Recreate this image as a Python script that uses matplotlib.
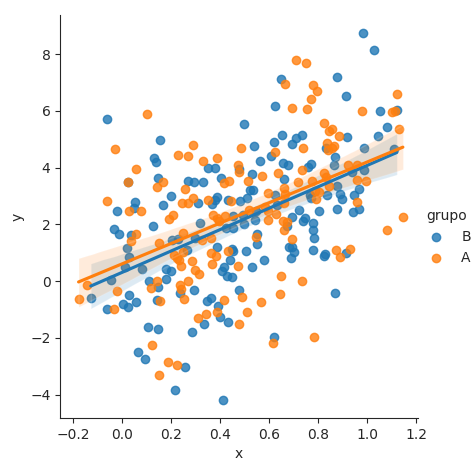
import numpy as np
import pandas as pd
import matplotlib
matplotlib.use('Agg')
import matplotlib.pyplot as plt
import seaborn as sns

# grupo B (blue)
b_x = [-0.062, 0.155, 0.128, 0.139, 0.023, 0.146, 0.267, 0.199, 0.054, 0.050,
       -0.022, 0.166, -0.035, 0.124, -0.014, 0.037, 0.020, 0.029, 0.203, 0.227,
       0.264, 0.010, 0.082, 0.177, 0.201, -0.045, -0.128, 0.109, 0.177, 0.146,
       0.237, 0.027, 0.004, 0.023, 0.057, -0.063, 0.144, 0.107, 0.148, 0.063,
       0.094, 0.257, 0.216,
       0.622, 0.499, 0.652, 0.710, 0.733, 0.694, 0.619, 0.539, 0.561, 0.608,
       0.658, 0.675, 0.350, 0.381, 0.475, 0.528, 0.660, 0.294, 0.328, 0.404,
       0.522, 0.533, 0.309, 0.389, 0.377, 0.366, 0.431, 0.479, 0.509, 0.622,
       0.631, 0.720, 0.547, 0.452, 0.494, 0.542, 0.317, 0.499, 0.695, 0.672,
       0.552, 0.552, 0.680, 0.693, 0.703, 0.690, 0.620, 0.298, 0.386, 0.448,
       0.454, 0.506, 0.580, 0.442, 0.414, 0.407, 0.528, 0.427, 0.449, 0.295,
       0.475, 0.346, 0.363, 0.393, 0.400, 0.434, 0.336, 0.284, 0.411, 0.423,
       0.452,
       0.982, 1.027, 0.876, 0.912, 1.052, 1.121, 0.917, 1.080, 1.044,
       0.833, 0.989, 1.108, 0.869, 0.772, 0.758, 0.866, 0.940, 0.988, 0.876,
       0.965, 0.765, 0.770, 0.835, 0.890, 0.898, 0.948, 0.802, 0.876, 0.944,
       0.965, 0.747, 0.738, 0.781, 0.778, 0.784, 0.778, 0.914, 0.829,
       0.826, 0.869, 0.649]
b_y = [5.73, 4.97, 4.34, 4.21, 3.51, 3.62, 3.52, 2.99, 2.80, 2.59,
       2.49, 2.69, 1.83, 1.94, 1.65, 1.61, 1.17, 0.84, 1.44, 1.48,
       1.09, 0.49, 0.42, 0.42, 0.35, 0.05, -0.58, 0.01, 0.06, -0.19,
       -0.43, -0.50, -0.80, -0.90, -0.75, -0.97, -0.68, -1.61, -1.68, -2.48,
       -2.76, -3.03, -3.82,
       6.19, 5.53, 5.15, 5.04, 5.15, 4.85, 4.92, 4.76, 4.25, 4.42,
       4.17, 4.08, 3.98, 4.00, 3.95, 3.78, 3.59, 3.48, 3.51, 3.64,
       3.23, 3.23, 2.76, 2.98, 2.87, 2.73, 2.87, 2.82, 2.92, 3.04,
       2.69, 2.52, 2.49, 2.28, 2.32, 2.16, 2.06, 2.02, 2.26, 1.96,
       1.67, 1.31, 1.22, 1.19, 1.03, 0.82, -1.98, 1.52, 1.19, 1.12,
       1.08, 1.05, 0.75, 0.74, 0.50, 0.37, 0.49, 0.18, 0.15, -0.32,
       -0.32, -0.69, -0.58, -0.87, -1.27, -1.43, -1.50, -1.78, -4.18, 1.87,
       1.87,
       8.73, 8.16, 7.20, 6.54, 6.00, 6.03, 5.09, 5.44, 5.10,
       4.68, 4.68, 4.66, 4.36, 4.13, 4.01, 4.09, 3.86, 3.93, 3.37,
       3.25, 3.02, 2.92, 3.04, 3.08, 2.90, 3.04, 2.46, 2.55, 2.43,
       2.53, 2.22, 2.11, 2.06, 1.82, 1.52, 1.11, 1.01, 0.96,
       0.89, -0.43, 7.13]

# grupo A (orange)
a_x = [0.100, -0.031, 0.226, 0.270, 0.058, 0.023, 0.165, 0.141, 0.258, -0.061,
       0.026, 0.078, 0.245, 0.270, 0.207, 0.192,
       0.057, 0.037, 0.152, 0.250, 0.213, 0.223, 0.234, 0.242, 0.250, -0.142,
       -0.178, -0.020, 0.144, 0.117, 0.235, 0.240, 0.268, -0.035, 0.155, 0.254,
       0.121, 0.187, 0.222, 0.150,
       0.693, 0.290, 0.484, 0.389, 0.328, 0.624, 0.472, 0.478, 0.570, 0.638,
       0.717, 0.736, 0.416, 0.438, 0.513, 0.290, 0.350, 0.445, 0.595, 0.660,
       0.665, 0.660, 0.584, 0.516, 0.597, 0.627, 0.370, 0.386, 0.420, 0.595,
       0.397, 0.658, 0.672,
       0.546, 0.662, 0.693, 0.649, 0.736, 0.645, 0.615, 0.325, 0.363, 0.363,
       0.382, 0.434, 0.284, 0.366, 0.471, 0.298, 0.314, 0.489, 0.566, 0.414,
       0.389, 0.511, 0.343, 0.311, 0.478,
       0.750, 0.779, 0.797, 0.769, 0.754, 1.124, 0.980, 1.103, 1.114, 0.822,
       0.856, 0.846, 0.887, 1.129,
       0.838, 0.856, 0.865, 0.842, 0.738, 0.920, 0.960, 0.824, 0.833, 0.777,
       0.958, 0.995, 0.846, 0.788, 0.802, 0.792, 0.958, 1.146, 1.083, 0.873,
       0.931, 0.890, 0.782, 0.710, 0.665]
a_y = [5.88, 4.66, 4.46, 4.42, 3.94, 3.51, 3.50, 3.31, 3.26, 2.84,
       2.49, 2.47, 2.76, 2.75, 2.32, 2.20,
       1.65, 1.43, 1.34, 1.71, 0.91, 0.83, 0.75, 0.55, 1.03, -0.15,
       -0.62, -0.34, 0.02, -0.25, -0.14, -0.26, 0.01, -0.97, -0.70, -0.64,
       -2.25, -2.85, -2.97, -3.32,
       6.09, 4.81, 4.68, 4.34, 4.25, 4.54, 4.11, 3.86, 3.70, 3.80,
       3.51, 3.93, 3.46, 3.52, 3.54, 2.94, 2.87, 2.82, 3.10, 3.27,
       3.08, 2.75, 2.63, 2.52, 2.49, 2.38, 2.32, 2.24, 2.31, 2.16,
       2.11, 2.12, 2.08,
       1.54, 1.82, 1.48, 0.18, 0.00, -0.46, -2.19, 1.44, 1.52, 1.01,
       0.89, 1.05, 0.70, 0.61, 0.53, 0.41, 0.27, -0.57, -0.72, -0.67,
       -1.10, -1.08, -1.17, -1.29, -1.52,
       7.70, 6.91, 6.70, 6.41, 6.07, 6.61, 6.00, 5.96, 5.99, 5.57,
       5.36, 5.30, 5.13, 5.36,
       4.87, 4.71, 4.77, 4.63, 4.68, 4.09, 4.09, 3.80, 3.66, 3.54,
       3.58, 3.54, 3.37, 3.19, 3.13, 2.90, 2.78, 2.26, 1.79, 1.09,
       1.12, 0.85, -1.98, 7.78, 6.94]

df = pd.DataFrame({
    'x': b_x + a_x,
    'y': b_y + a_y,
    'grupo': ['B'] * len(b_x) + ['A'] * len(a_x),
})

sns.set_style('ticks')
fig = plt.figure(figsize=(4.74, 4.74), dpi=100)
ax = fig.add_axes([0.127, 0.118, 0.755, 0.85])

colors = {'B': 'C0', 'A': 'C1'}
for g in ['B', 'A']:
    sub = df[df['grupo'] == g]
    sns.regplot(data=sub, x='x', y='y', ax=ax, color=colors[g], label=g,
                seed=0, scatter_kws={'s': 36})

sns.despine(ax=ax)
ax.set_xlim(-0.253, 1.208)
ax.set_xticks([-0.2, 0.0, 0.2, 0.4, 0.6, 0.8, 1.0, 1.2])
handles, labels = ax.get_legend_handles_labels()
fig.legend(handles, labels, title='grupo', loc='center right', frameon=False,
           bbox_to_anchor=(1.02, 0.5))

fig.savefig('out.png', dpi=100)
